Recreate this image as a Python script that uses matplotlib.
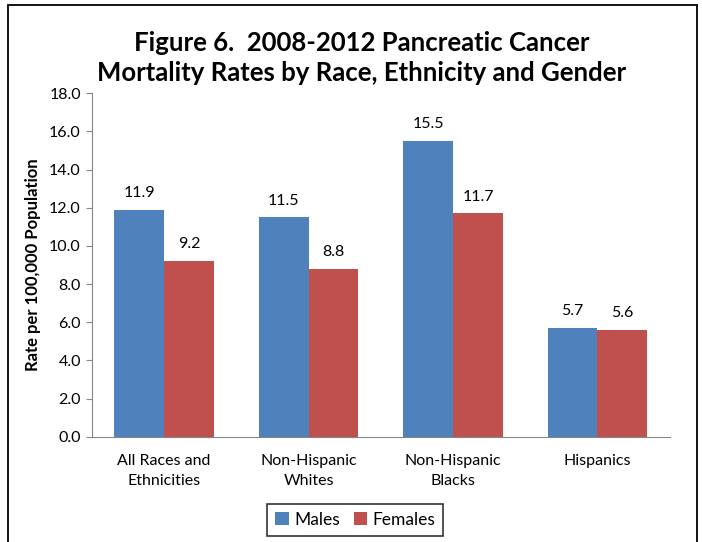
import matplotlib.pyplot as plt
import numpy as np
from matplotlib.patches import Rectangle

plt.rcParams['font.family'] = ['Lato', 'DejaVu Sans']

# data
categories = ['All Races and\nEthnicities', 'Non-Hispanic\nWhites', 'Non-Hispanic\nBlacks', 'Hispanics']
males = [11.9, 11.5, 15.5, 5.7]
females = [9.2, 8.8, 11.7, 5.6]

blue = '#4F81BD'
red = '#C0504D'

fig = plt.figure(figsize=(7.02, 5.42), dpi=100)
ax = fig.add_axes([0.131, 0.194, 0.823, 0.634])

x = np.arange(len(categories))
w = 0.345
b1 = ax.bar(x - w / 2, males, w, color=blue, label='Males')
b2 = ax.bar(x + w / 2, females, w, color=red, label='Females')

for bars in (b1, b2):
    for r in bars:
        ax.annotate(f'{r.get_height():.1f}', (r.get_x() + r.get_width() / 2, r.get_height()),
                    xytext=(0, 7), textcoords='offset points', ha='center', va='bottom',
                    fontsize=11.5)

ax.set_xlim(-0.5, len(categories) - 0.5)
ax.set_ylim(0, 18)
ax.set_yticks(np.arange(0, 18.1, 2))
ax.set_yticklabels([f'{v:.1f}' for v in np.arange(0, 18.1, 2)], fontsize=11.5)
ax.set_xticks(x)
ax.set_xticklabels(categories, fontsize=11.5, linespacing=1.6)
ax.tick_params(axis='x', length=0, pad=12)
ax.tick_params(axis='y', length=4, color='#868686', pad=4)

for s in ('top', 'right'):
    ax.spines[s].set_visible(False)
for s in ('left', 'bottom'):
    ax.spines[s].set_color('#868686')

ax.set_ylabel('Rate per 100,000 Population', fontsize=12, fontweight='bold', labelpad=6)

fig.text(0.515, 0.893, 'Figure 6.  2008-2012 Pancreatic Cancer\nMortality Rates by Race, Ethnicity and Gender',
         ha='center', va='center', fontsize=18.5, fontweight='bold', linespacing=1.3)

leg = fig.legend(loc='center', bbox_to_anchor=(0.506, 0.041), ncol=2, fontsize=12.5,
                 frameon=True, fancybox=False, edgecolor='black', handlelength=0.8,
                 handleheight=0.8, handletextpad=0.3, columnspacing=0.8, borderpad=0.45)
leg.get_frame().set_linewidth(1.2)

# outer chart border
fig.patches.append(Rectangle((8 / 702, -0.05), 689 / 702, 1.05 - 5 / 542,
                             transform=fig.transFigure, fill=False, edgecolor='black', linewidth=1.3))

fig.savefig('out.png', dpi=100)
